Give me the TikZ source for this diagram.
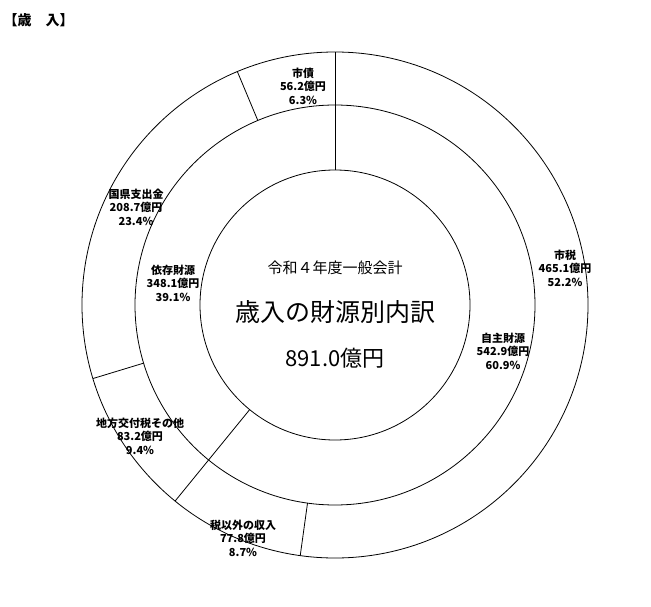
\documentclass[tikz,border=0pt]{standalone}
\usepackage{fontspec}
\usetikzlibrary{calc}
\newfontfamily\jp{Noto Sans CJK JP}
\begin{document}
\begin{tikzpicture}[x=1pt,y=1pt,
  lab/.style={font=\jp\bfseries\fontsize{11}{13.5}\selectfont, align=center, inner sep=1pt}]
\useasboundingbox (0,0) rectangle (651,-607);
\coordinate (c) at (335,-305);
% rings
\draw[thick] (c) circle (253);
\draw[thick] (c) circle (200);
\draw[thick] (c) circle (135);
% segment borders
\draw[thick] ($(c)+(90:135)$) -- ($(c)+(90:253)$);
\draw[thick] ($(c)+(-129.2:135)$) -- ($(c)+(-129.2:253)$);
\foreach \a in {-97.9,-163.1,112.7}
  \draw[thick] ($(c)+(\a:200)$) -- ($(c)+(\a:253)$);
% labels
\node[anchor=west, font=\jp\bfseries\fontsize{14}{16}\selectfont] (hdr) at (0,-20) {【歳\quad 入】};
\node[lab] (shisai) at (303,-86) {市債\\56.2億円\\6.3\%};
\node[lab] (kokken) at (136,-207) {国県支出金\\208.7億円\\23.4\%};
\node[lab] (izon) at (173,-283) {依存財源\\348.1億円\\39.1\%};
\node[lab] (shizei) at (565,-268) {市税\\465.1億円\\52.2\%};
\node[lab] (jishu) at (503,-351) {自主財源\\542.9億円\\60.9\%};
\node[lab] (chiho) at (140,-436) {地方交付税その他\\83.2億円\\9.4\%};
\node[lab] (zeigai) at (243,-538) {税以外の収入\\77.8億円\\8.7\%};
\node[font=\jp\fontsize{15}{17}\selectfont] (kaikei) at (335,-268) {令和４年度一般会計};
\node[font=\jp\fontsize{25}{28}\selectfont] (title) at (335,-312) {歳入の財源別内訳};
\node[font=\jp\fontsize{22}{25}\selectfont] (total) at (335,-358) {891.0億円};
\end{tikzpicture}
\end{document}
